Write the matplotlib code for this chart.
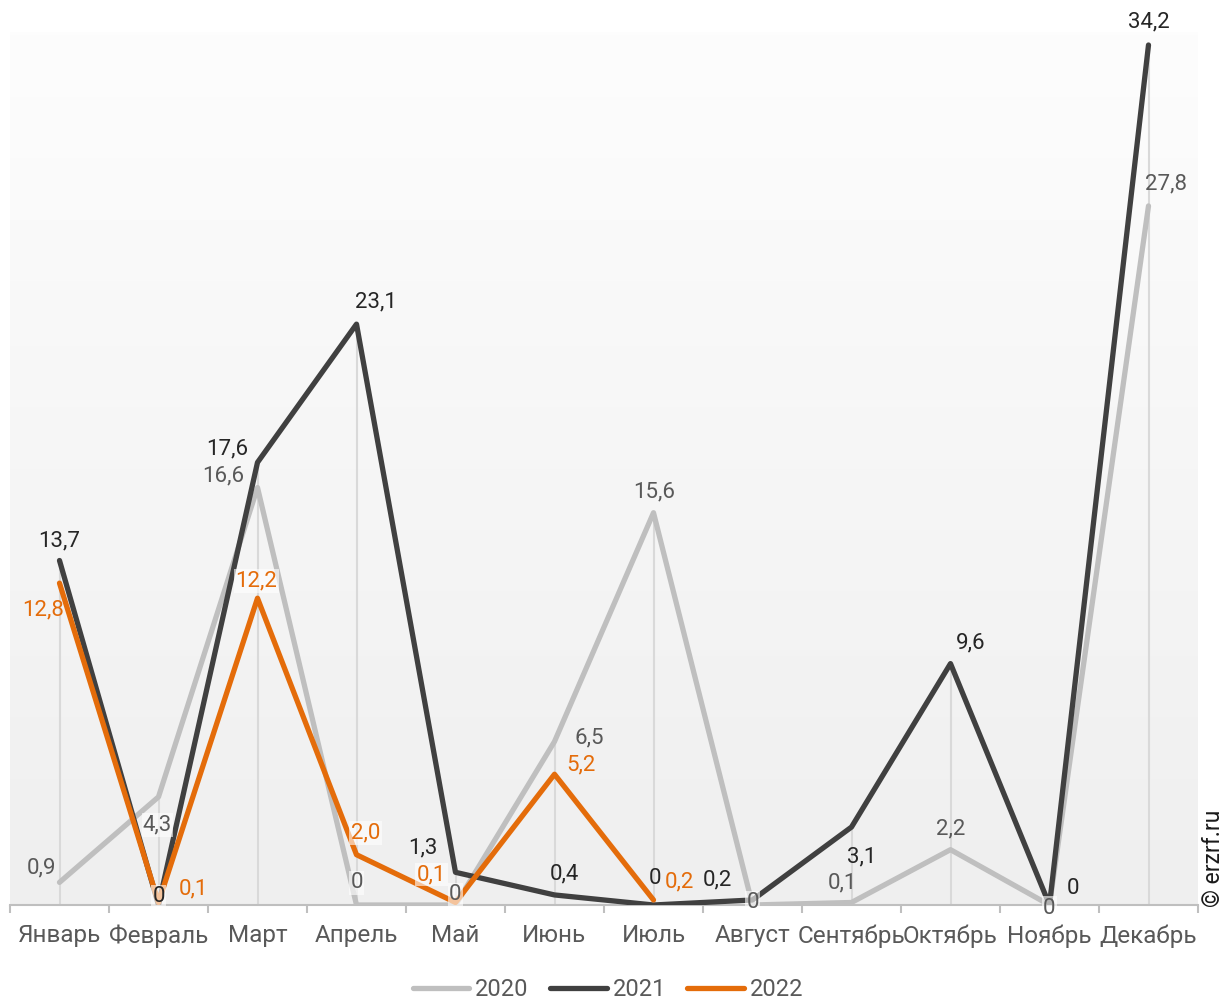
import numpy as np
import matplotlib
matplotlib.use("Agg")
import matplotlib.pyplot as plt
from matplotlib.colors import LinearSegmentedColormap

plt.rcParams['font.family'] = ['Roboto', 'DejaVu Sans']

months = ['Январь', 'Февраль', 'Март', 'Апрель', 'Май', 'Июнь', 'Июль',
          'Август', 'Сентябрь', 'Октябрь', 'Ноябрь', 'Декабрь']
years = ['2020', '2021', '2022']
v2020 = [0.9, 4.3, 16.6, 0, 0, 6.5, 15.6, 0, 0.1, 2.2, 0, 27.8]
v2021 = [13.7, 0, 17.6, 23.1, 1.3, 0.4, 0, 0.2, 3.1, 9.6, 0, 34.2]
v2022 = [12.8, 0.1, 12.2, 2.0, 0.1, 5.2, 0.2]

series = [v2020, v2021, v2022]
line_colors = ['#bfbfbf', '#404040', '#e46c0a']
label_colors = ['#595959', '#262626', '#e46c0a']

# label offsets in pixels (dx, dy) per series
offsets = [
    [(-18, 14), (-1, -28), (-34, 12), (0, 22), (0, 10), (35, 4), (1, 21),
     (0, 2), (-9, 20), (0, 21), (0, -3), (17, 22)],
    [(0, 20), (0, 8), (-30, 13), (19, 22), (-33, 24), (10, 21), (2, 26),
     (-35, 20), (10, -30), (20, 21), (23, 17), (0, 23)],
    [(-16, -27), (35, 14), (-1, 17), (9, 22), (-24, 28), (26, 9), (26, 18)],
]
boxed = {(0, 1), (0, 3), (0, 4), (0, 7), (0, 10), (1, 1), (2, 2), (2, 4), (2, 3)}

W, H = 1226, 1001
fig = plt.figure(figsize=(W / 100, H / 100), dpi=100)
ax = fig.add_axes([10 / W, 1 - 905 / H, 1188 / W, 873 / H])

x = np.arange(len(months))
ymax = 873 / 25.146
ax.set_xlim(-0.5, len(months) - 0.5)
ax.set_ylim(0, ymax)

# gradient background
cmap = LinearSegmentedColormap.from_list('bg', ['#efefef', '#fdfdfd'])
grad = np.linspace(0, 1, 256).reshape(-1, 1)
ax.imshow(grad, aspect='auto', cmap=cmap, origin='lower',
          extent=[-0.5, len(months) - 0.5, 0, ymax], zorder=0)

# drop lines
tops = [max(s[i] for s in series if i < len(s)) for i in range(len(months))]
ax.vlines(x, 0, tops, color='#d9d9d9', lw=1.5, zorder=1)

for s, c, name in zip(series, line_colors, years):
    ax.plot(x[:len(s)], s, color=c, lw=3.8, solid_capstyle='round',
            solid_joinstyle='round', label=name, zorder=3)

for k, (s, lc) in enumerate(zip(series, label_colors)):
    for i, v in enumerate(s):
        txt = '0' if v == 0 else f'{v:.1f}'.replace('.', ',')
        dx, dy = offsets[k][i]
        bb = dict(facecolor='white', alpha=0.6, edgecolor='none', pad=1) if (k, i) in boxed else None
        ax.annotate(txt, (x[i], v), xytext=(dx, dy), textcoords='offset pixels',
                    ha='center', va='center', fontsize=16, color=lc,
                    bbox=bb, zorder=5)

for sp in ['top', 'right', 'left']:
    ax.spines[sp].set_visible(False)
ax.spines['bottom'].set_color('#bfbfbf')
ax.spines['bottom'].set_linewidth(1.5)
ax.spines['bottom'].set_zorder(2)
ax.set_yticks([])
ax.set_xticks(x)
ax.set_xticklabels(months, fontsize=17.5, color='#595959')
ax.tick_params(axis='x', which='major', length=0, pad=14)
ax.set_xticks(np.arange(-0.5, len(months)), minor=True)
ax.tick_params(axis='x', which='minor', length=6, width=1.5, color='#bfbfbf')

leg = fig.legend(loc='center', bbox_to_anchor=(608 / W, 1 - 990 / H), ncol=3,
                 frameon=False, fontsize=17, handlelength=2.4, handletextpad=0.25,
                 columnspacing=0.9)
for t in leg.get_texts():
    t.set_color('#595959')

fig.text(1214 / W, 1 - 858 / H, '© erzrf.ru', rotation=90, ha='center', va='center',
         fontsize=16.5, color='#1a1a1a')

fig.savefig('out.png', dpi=100)
